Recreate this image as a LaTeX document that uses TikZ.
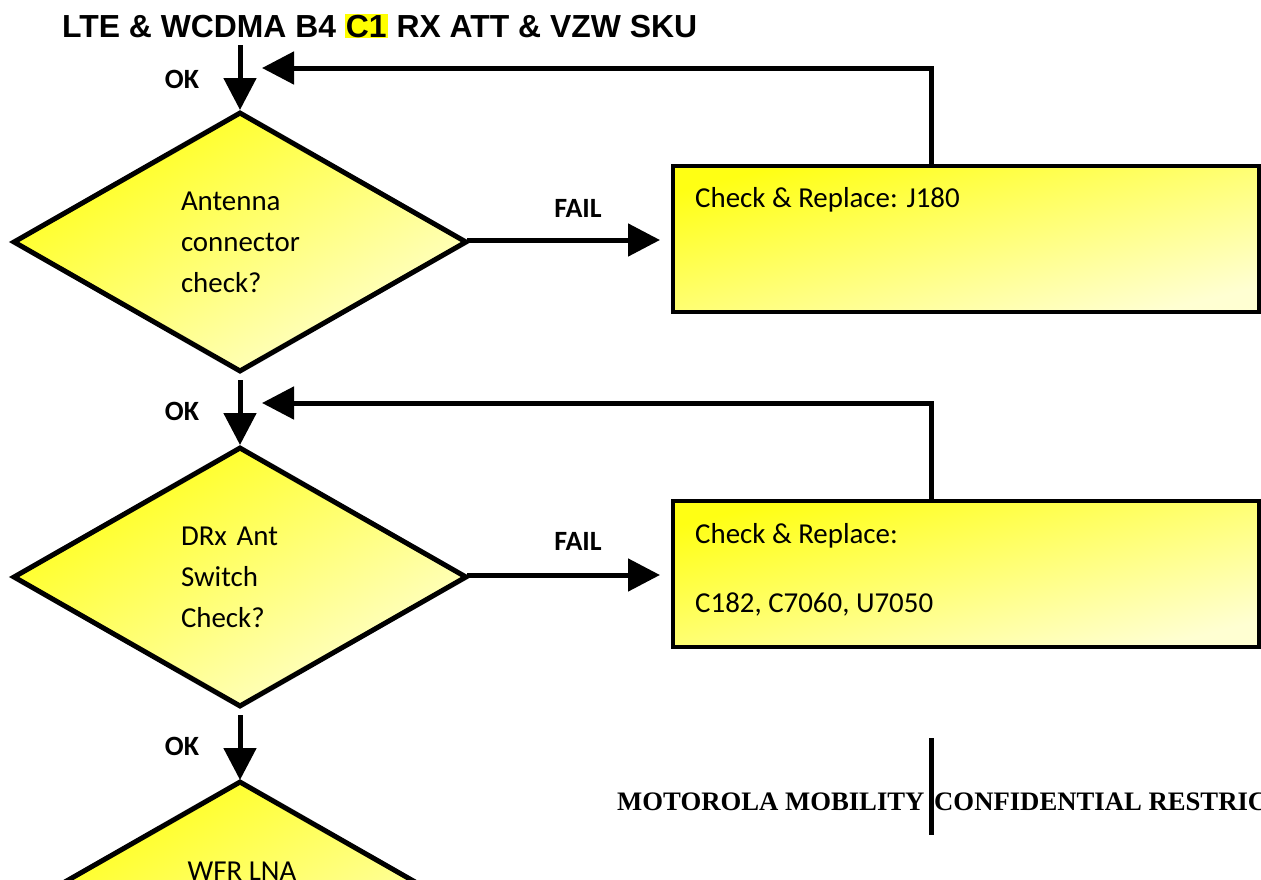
\documentclass[tikz,border=0pt]{standalone}
\usepackage{fontspec}
\setmainfont{Carlito}
\newfontfamily\titlefont{Liberation Sans}
\newfontfamily\footfont{Liberation Serif}
\usetikzlibrary{shapes.geometric,arrows.meta,calc}
\definecolor{yel1}{RGB}{255,255,20}
\definecolor{yel2}{RGB}{255,255,210}
\definecolor{hl}{RGB}{255,255,0}
\begin{document}
\begin{tikzpicture}[x=1bp,y=-1bp, line join=miter,
  flow/.style={line width=5bp, -{Triangle[length=32bp,width=32bp]}},
  shadeyel/.style={shading=axis, top color=yel1, bottom color=yel2, shading angle=#1},
  decision/.style={diamond, draw, line width=5bp, minimum width=454bp, minimum height=260bp, inner sep=0pt, shadeyel=30, text width=118bp, align=left, font=\fontsize{29}{41}\selectfont},
  action/.style={rectangle, draw, line width=4bp, minimum width=586bp, minimum height=146bp, inner sep=0pt, shadeyel=14},
  boxtext/.style={anchor=base west, inner sep=0pt, font=\fontsize{29}{35}\selectfont},
  lbl/.style={inner sep=0pt, font=\bfseries\fontsize{28}{28}\selectfont},
]
\clip (0,0) rectangle (1261,880);
\fill[white] (0,0) rectangle (1261,880);

\node[anchor=base west, inner sep=0pt, font=\titlefont\bfseries\fontsize{32}{32}\selectfont] (title) at (62,37)
  {LTE \& WCDMA B4 {\setlength\fboxsep{1bp}\colorbox{hl}{C1}} RX ATT \& VZW SKU};

\node[decision] (d1) at (240,242) {Antenna\\connector\\check?};
\node[decision] (d2) at (240,577) {DRx Ant\\Switch\\Check?};
\node[decision] (d3) at (240,911) {};
\node[inner sep=0pt, font=\fontsize{29}{41}\selectfont] (t3) at (242,871) {WFR LNA};

\node[action] (b1) at (966,239) {};
\node[boxtext] (t1) at ($(b1.north west)+(24,43)$) {Check \& Replace: J180};
\node[action] (b2) at (966,573.5) {};
\node[boxtext] (t2a) at ($(b2.north west)+(24,44.5)$) {Check \& Replace:};
\node[boxtext] (t2b) at ($(b2.north west)+(24,113.5)$) {C182, C7060, U7050};

\coordinate (s0) at (240,45);
\coordinate (d1top) at (240,110);
\coordinate (d1bot) at (240,380);
\coordinate (d2top) at (240,445);
\coordinate (d2bot) at (240,715);
\coordinate (d3top) at (240,780);
\draw[flow] (s0) -- (d1top);
\draw[flow] (d1bot) -- (d2top);
\draw[flow] (d2bot) -- (d3top);

\coordinate (f1s) at (467,240);
\coordinate (f2s) at (467,575);
\draw[flow, shorten >=11bp] (f1s) -- (f1s -| b1.west);
\draw[flow, shorten >=11bp] (f2s) -- (f2s -| b2.west);

\coordinate (c1) at (931,68);
\coordinate (e1) at (262,68);
\draw[flow] (b1.north -| c1) -- (c1) -- (e1);
\coordinate (c2) at (931,403);
\coordinate (e2) at (262,403);
\draw[flow] (b2.north -| c2) -- (c2) -- (e2);

\node[lbl] (ok1) at (182,79) {OK};
\node[lbl] (ok2) at (182,411) {OK};
\node[lbl] (ok3) at (182,746) {OK};
\node[lbl] (f1) at (578,208) {FAIL};
\node[lbl] (f2) at (578,541) {FAIL};

\node[anchor=base west, inner sep=0pt, font=\footfont\bfseries\fontsize{26.8}{27}\selectfont] (foot) at (617,810) {MOTOROLA MOBILITY\hspace{3bp} CONFIDENTIAL RESTRIC};
\coordinate (bt) at (931,738);
\coordinate (bb) at (931,835);
\draw[line width=5bp] (bt) -- (bb);
\end{tikzpicture}
\end{document}
